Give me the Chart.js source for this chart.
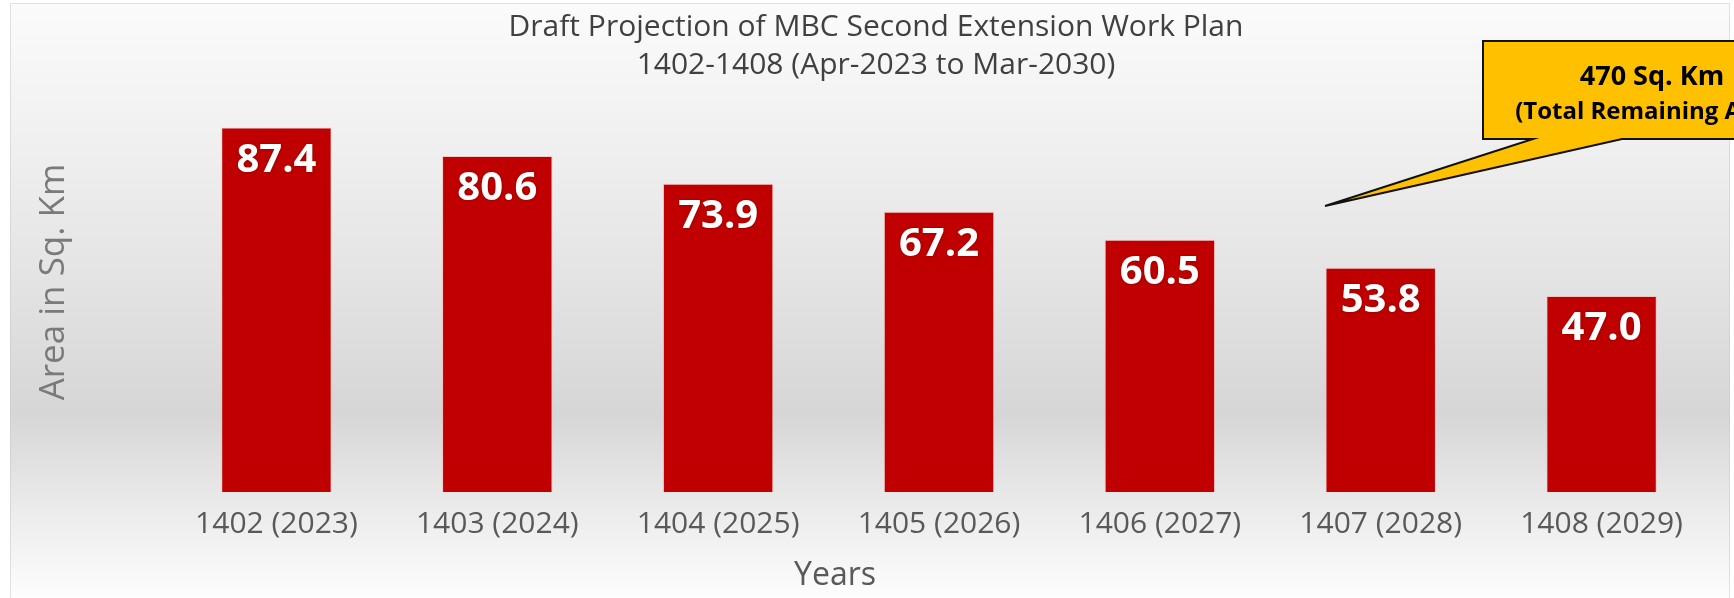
<!DOCTYPE html>
<html>
<head>
<meta charset="utf-8">
<script src="https://cdn.jsdelivr.net/npm/chart.js@4.4.1/dist/chart.umd.min.js"></script>
<style>
  html, body { margin: 0; padding: 0; background: #ffffff; }
  #wrap { width: 1734px; height: 598px; position: relative; }
</style>
</head>
<body>
<div id="wrap"><canvas id="c" width="1734" height="598"></canvas></div>
<script>
// ---- data ----
const categories = ["1402 (2023)", "1403 (2024)", "1404 (2025)", "1405 (2026)", "1406 (2027)", "1407 (2028)", "1408 (2029)"];
const areaValues = [87.4, 80.6, 73.9, 67.2, 60.5, 53.8, 47.0];
const titleLines = ["Draft Projection of MBC Second Extension Work Plan", "1402-1408 (Apr-2023 to Mar-2030)"];
const xAxisTitle = "Years";
const yAxisTitle = "Area in Sq. Km";
const calloutLines = ["470 Sq. Km", "(Total Remaining Area)"];
const yMin = 0;
const yMax = 100;

const FONT = "'Open Sans', 'DejaVu Sans', sans-serif";

const backgroundPlugin = {
  id: 'bg',
  beforeDraw(chart) {
    const ctx = chart.ctx;
    const W = chart.width, H = chart.height;
    ctx.save();
    ctx.fillStyle = '#ffffff';
    ctx.fillRect(0, 0, W, H);
    const g = ctx.createLinearGradient(0, 3, 0, H);
    g.addColorStop(0.00, '#fbfbfb');
    g.addColorStop(0.17, '#f3f3f3');
    g.addColorStop(0.42, '#e6e6e6');
    g.addColorStop(0.69, '#d6d6d6');
    g.addColorStop(0.72, '#dadada');
    g.addColorStop(0.85, '#ebebeb');
    g.addColorStop(1.00, '#fdfdfd');
    ctx.fillStyle = g;
    ctx.fillRect(10, 3, 1720, H - 3);
    ctx.strokeStyle = 'rgba(200,200,200,0.5)';
    ctx.lineWidth = 1;
    ctx.strokeRect(10.5, 3.5, 1719, H);
    ctx.restore();
  }
};

const textPlugin = {
  id: 'texts',
  afterDatasetsDraw(chart) {
    const ctx = chart.ctx;
    ctx.save();
    const meta = chart.getDatasetMeta(0);
    ctx.font = "bold 40px " + FONT;
    ctx.textAlign = 'center';
    ctx.textBaseline = 'alphabetic';
    ctx.fillStyle = '#ffffff';
    ctx.shadowColor = 'rgba(60,0,0,0.45)';
    ctx.shadowBlur = 3;
    meta.data.forEach((bar, i) => {
      ctx.fillText(areaValues[i].toFixed(1), bar.x, bar.y + 44);
    });
    ctx.restore();
  },
  afterDraw(chart) {
    const ctx = chart.ctx;
    ctx.save();
    // title
    ctx.fillStyle = '#404040';
    ctx.font = "30px " + FONT;
    ctx.textAlign = 'center';
    ctx.textBaseline = 'alphabetic';
    ctx.fillText(titleLines[0], 876, 36);
    ctx.fillText(titleLines[1], 876, 74);

    // x axis title
    ctx.fillStyle = '#595959';
    ctx.font = "32px " + FONT;
    ctx.fillText(xAxisTitle, 835, 585);

    // y axis title
    ctx.save();
    ctx.translate(64, 282);
    ctx.rotate(-Math.PI / 2);
    ctx.fillStyle = '#7a7a7a';
    ctx.font = "35px " + FONT;
    ctx.textAlign = 'center';
    ctx.textBaseline = 'alphabetic';
    ctx.fillText(yAxisTitle, 0, 0);
    ctx.restore();

    // callout
    ctx.beginPath();
    ctx.moveTo(1483, 41);
    ctx.lineTo(1830, 41);
    ctx.lineTo(1830, 139);
    ctx.lineTo(1622, 139);
    ctx.lineTo(1325, 206);
    ctx.lineTo(1533, 139);
    ctx.lineTo(1483, 139);
    ctx.closePath();
    ctx.fillStyle = '#FFC000';
    ctx.fill();
    ctx.lineWidth = 2;
    ctx.lineJoin = 'miter';
    ctx.strokeStyle = '#111111';
    ctx.stroke();

    ctx.fillStyle = '#000000';
    ctx.textAlign = 'center';
    ctx.font = "bold 27px " + FONT;
    ctx.fillText(calloutLines[0], 1652, 85);
    ctx.font = "bold 24px " + FONT;
    ctx.fillText(calloutLines[1], 1652, 119);
    ctx.restore();
  }
};

new Chart(document.getElementById('c'), {
  type: 'bar',
  data: {
    labels: categories,
    datasets: [{
      label: 'Area',
      data: areaValues,
      backgroundColor: '#C00000',
      borderColor: 'rgba(255,170,170,0.55)',
      borderWidth: 1,
      categoryPercentage: 1.0,
      barPercentage: 0.5
    }]
  },
  options: {
    responsive: false,
    animation: false,
    devicePixelRatio: 1,
    layout: { padding: { left: 166, right: 22, top: 75, bottom: 42 } },
    plugins: {
      legend: { display: false },
      title: { display: false },
      tooltip: { enabled: false }
    },
    scales: {
      x: {
        grid: { display: false, drawTicks: false },
        border: { display: false },
        ticks: {
          color: '#595959',
          font: { family: FONT, size: 30 },
          padding: 14,
          maxRotation: 0,
          autoSkip: false
        }
      },
      y: {
        display: false,
        min: yMin,
        max: yMax
      }
    }
  },
  plugins: [backgroundPlugin, textPlugin]
});
</script>
</body>
</html>
